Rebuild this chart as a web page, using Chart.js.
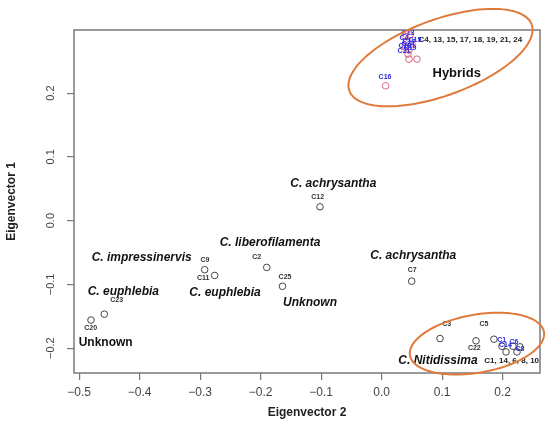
<!DOCTYPE html>
<html><head><meta charset="utf-8">
<script src="https://cdn.jsdelivr.net/npm/chart.js@4.4.1/dist/chart.umd.min.js"></script>
<style>html,body{margin:0;padding:0;background:#fff;}</style>
</head><body>
<canvas id="c" width="550" height="424" style="width:550px;height:424px;display:block"></canvas>
<script>
// ---- data (Eigenvector 2 = x, Eigenvector 1 = y) ----
const sampleNames = ['C12','C7','C25','C2','C9','C11','C23','C20','C3','C22','C5','C1','C14','C6','C8','C10'];
const sampleEv2 = [-0.102, 0.0496, -0.164, -0.190, -0.2926, -0.276, -0.4585, -0.4805, 0.0964, 0.156, 0.1856, 0.1988, 0.2055, 0.217, 0.2237, 0.2286];
const sampleEv1 = [0.0216, -0.095, -0.103, -0.0734, -0.077, -0.086, -0.1467, -0.156, -0.185, -0.1885, -0.186, -0.197, -0.206, -0.197, -0.206, -0.198];

const hybridNames = ['C4','C13','C15','C17','C18','C19','C21','C24','C24b','C16'];
const hybridEv2 = [0.0385, 0.0468, 0.0418, 0.0501, 0.0385, 0.0451, 0.0435, 0.0451, 0.0583, 0.0066];
const hybridEv1 = [0.2894, 0.291, 0.2816, 0.2769, 0.2722, 0.2675, 0.2612, 0.2533, 0.2533, 0.2115];

const xTicksStep = 0.1;
const yTicksStep = 0.1;

// annotation texts placed in data units
const noteText = ['C. achrysantha','C. achrysantha','C. liberofilamenta','C. impressinervis','C. euphlebia','C. euphlebia','Unknown','Unknown','Hybrids','C. Nitidissima',
  'C12','C7','C25','C2','C9','C11','C23','C20','C3','C5','C22','C1, 14, 6, 8, 10','C4, 13, 15, 17, 18, 19, 21, 24',
  'C16','C1','C14','C6','C8','C13','C4','C17','C15','C18','C19','C21','C24'];
const noteX = [-0.080, 0.0522, -0.1846, -0.3967, -0.4271, -0.259, -0.1185, -0.4562, 0.124, 0.0931,
  -0.1058, 0.0506, -0.1598, -0.2066, -0.2921, -0.2949, -0.438, -0.481, 0.1074, 0.1691, 0.1531, 0.2149, 0.1465,
  0.0055, 0.1983, 0.2046, 0.2187, 0.2286, 0.0435, 0.0369, 0.0451, 0.055, 0.0385, 0.0468, 0.0369, 0.0435];
const noteY = [0.0584, -0.0552, -0.0342, -0.0584, -0.1117, -0.1126, -0.1283, -0.1917, 0.2309, -0.2204,
  0.0373, -0.0776, -0.0882, -0.0568, -0.062, -0.0907, -0.1247, -0.1691, -0.1628, -0.1628, -0.1995, -0.2204, 0.2831,
  0.2256, -0.1875, -0.1945, -0.1906, -0.2016, 0.2941, 0.2863, 0.28, 0.2831, 0.2737, 0.2706, 0.2659, 0.2769];
const noteKind = ['sp','sp','sp','sp','sp','sp','sp','plain','big','sp',
  'sm','sm','sm','sm','sm','sm','sm','sm','sm','sm','sm','list','list',
  'blue','blue','blue','blue','blue','blue','blue','blue','blue','blue','blue','blue','blue'];

// group ellipses in data units: centre, major and minor semi-axis vectors
const ellipseCx = [0.0972, 0.1575];
const ellipseCy = [0.2557, -0.193];
const ellipseUx = [0.1507, 0.1107];
const ellipseUy = [0.0520, 0.01852];
const ellipseVx = [0.0215, 0.00833];
const ellipseVy = [-0.0560, -0.0448];

const FONT = '"Liberation Sans", Arial, Helvetica, sans-serif';
const fmt = v => { if (Math.abs(v) < 1e-9) return '0.0'; return v.toFixed(1).replace('-', '\u2212'); };

const overlay = {
  id: 'overlay',
  afterDatasetsDraw(chart) {
    const ctx = chart.ctx, xs = chart.scales.x, ys = chart.scales.y, a = chart.chartArea;
    ctx.save();
    ctx.strokeStyle = '#7a7a7a';
    ctx.lineWidth = 1.5;
    ctx.strokeRect(a.left, a.top, a.right - a.left, a.bottom - a.top);
    ctx.textAlign = 'center';
    ctx.textBaseline = 'middle';
    const styles = {
      sp: ['italic bold 12px ' + FONT, '#111'],
      plain: ['bold 12px ' + FONT, '#111'],
      big: ['bold 13px ' + FONT, '#111'],
      sm: ['bold 7px ' + FONT, '#333'],
      list: ['bold 8px ' + FONT, '#222'],
      blue: ['bold 7px ' + FONT, '#2a2ae6']
    };
    for (let i = 0; i < noteText.length; i++) {
      const s = styles[noteKind[i]];
      ctx.font = s[0];
      ctx.fillStyle = s[1];
      ctx.fillText(noteText[i], xs.getPixelForValue(noteX[i]), ys.getPixelForValue(noteY[i]));
    }
    ctx.strokeStyle = '#e07a3a';
    ctx.lineWidth = 2;
    for (let e = 0; e < ellipseCx.length; e++) {
      ctx.beginPath();
      for (let k = 0; k <= 120; k++) {
        const t = k / 120 * Math.PI * 2;
        const dx = ellipseCx[e] + ellipseUx[e] * Math.cos(t) + ellipseVx[e] * Math.sin(t);
        const dy = ellipseCy[e] + ellipseUy[e] * Math.cos(t) + ellipseVy[e] * Math.sin(t);
        const px = xs.getPixelForValue(dx), py = ys.getPixelForValue(dy);
        if (k === 0) ctx.moveTo(px, py); else ctx.lineTo(px, py);
      }
      ctx.stroke();
    }
    ctx.restore();
  }
};

new Chart(document.getElementById('c'), {
  type: 'scatter',
  data: {
    datasets: [
      {
        label: 'Samples',
        data: sampleEv2.map((x, i) => ({ x: x, y: sampleEv1[i], name: sampleNames[i] })),
        pointRadius: 3.3, pointBorderWidth: 1, borderColor: '#444', backgroundColor: 'rgba(0,0,0,0)'
      },
      {
        label: 'Hybrids',
        data: hybridEv2.map((x, i) => ({ x: x, y: hybridEv1[i], name: hybridNames[i] })),
        pointRadius: 3.3, pointBorderWidth: 1, borderColor: '#e0607e', backgroundColor: 'rgba(0,0,0,0)'
      }
    ]
  },
  options: {
    responsive: false,
    animation: false,
    layout: { padding: { top: 30, right: 10, left: 0, bottom: 0 } },
    plugins: { legend: { display: false }, tooltip: { enabled: false } },
    scales: {
      x: {
        type: 'linear', min: -0.5086, max: 0.2617,
        afterFit: s => { s.height = 51; },
        grid: { drawOnChartArea: false, drawTicks: true, tickLength: 7, tickColor: '#777', lineWidth: 1.2 },
        border: { display: false },
        ticks: { stepSize: xTicksStep, includeBounds: false, padding: 5, color: '#444', font: { family: FONT, size: 12 }, callback: v => fmt(v) },
        title: { display: true, text: 'Eigenvector 2', color: '#222', font: { family: FONT, size: 12, weight: 'bold' }, padding: { top: 0, bottom: 4 } }
      },
      y: {
        type: 'linear', min: -0.239, max: 0.299,
        afterFit: s => { s.width = 74; },
        grid: { drawOnChartArea: false, drawTicks: true, tickLength: 7, tickColor: '#777', lineWidth: 1.2 },
        border: { display: false },
        ticks: { stepSize: yTicksStep, includeBounds: false, minRotation: 90, maxRotation: 90, crossAlign: 'center', padding: 5, color: '#444', font: { family: FONT, size: 11 }, callback: v => fmt(v) },
        title: { display: true, text: 'Eigenvector 1', color: '#222', font: { family: FONT, size: 12, weight: 'bold' }, padding: { top: 4, bottom: 0 } }
      }
    }
  },
  plugins: [overlay]
});
</script>
</body></html>
